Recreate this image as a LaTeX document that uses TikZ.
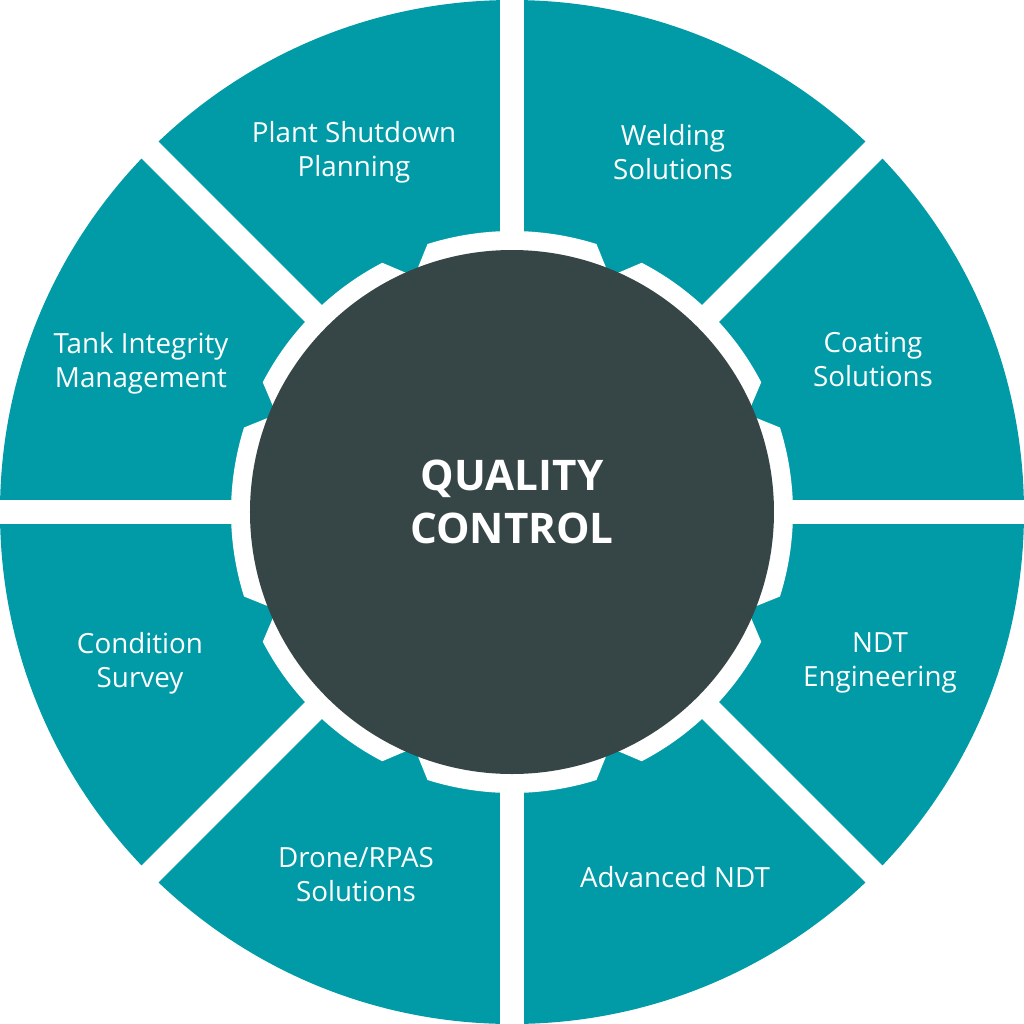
\documentclass[tikz,border=0pt]{standalone}
\usepackage{fontspec}
\setmainfont{Open Sans}
\usepackage{xcolor}
\definecolor{ringteal}{RGB}{0,155,166}
\definecolor{hubgray}{RGB}{54,70,71}

\begin{document}
\begin{tikzpicture}[line width=0.4pt,
  lbl/.style={text=white,align=center,font=\fontsize{7.9}{9.7}\selectfont},
  hub/.style={text=white,align=center,font=\fontsize{12}{15}\selectfont\bfseries}]
  \useasboundingbox (-5.12,-5.12) rectangle (5.12,5.12);
  % Outer ring, cut into eight sectors
  \fill[ringteal] (0,0) circle (5.12);
  \foreach \a in {0,45,90,135} {\draw[white,line width=0.24cm] (\a:5.3) -- (\a+180:5.3);}
  % White gear round the hub
  \fill[white] (17.5:2.81)
    \foreach \m in {22.5,67.5,...,337.5} {-- (\m:2.55) -- (\m+5:2.81) arc[start angle=\m+5,end angle=\m+40,radius=2.81]} -- cycle;
  % Hub
  \fill[hubgray] (0,0) circle (2.62);
  \node[hub] (qc) at (0,0.10) {QUALITY\\CONTROL};
  % Sector labels
  \foreach \x/\y/\nm/\lab in {-1.58/3.60/psp/{Plant Shutdown\\Planning}, 1.61/3.60/ws/{Welding\\Solutions},
      3.61/1.53/cs/{Coating\\Solutions}, 3.68/-1.51/ndt/{NDT\\Engineering}, 1.63/-3.65/andt/{Advanced NDT},
      -1.56/-3.63/drone/{Drone/RPAS\\Solutions}, -3.72/-1.51/cond/{Condition\\Survey},
      -3.71/1.49/tank/{Tank Integrity\\Management}}
    {\node[lbl] (\nm) at (\x,\y) {\lab};}
\end{tikzpicture}
\end{document}
